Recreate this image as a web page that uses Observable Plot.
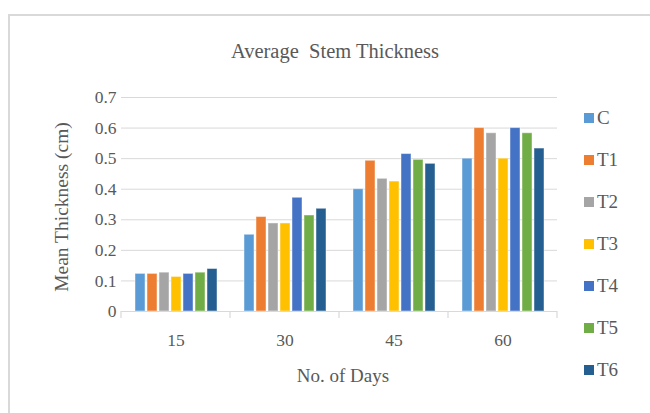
<!DOCTYPE html>
<html>
<head>
<meta charset="utf-8">
<script src="https://cdn.jsdelivr.net/npm/d3@7"></script>
<script src="https://cdn.jsdelivr.net/npm/@observablehq/plot@0.6"></script>
<style>
  html, body { margin: 0; padding: 0; background: #fff; }
  #wrap { position: relative; width: 650px; height: 413px; overflow: hidden; font-family: "Liberation Serif", "DejaVu Serif", serif; color: #595959; }
  #border { position: absolute; left: 8px; top: 14px; width: 700px; height: 460px; border: 2px solid #d9d9d9; box-sizing: border-box; }
  #title { position: absolute; left: 335px; top: 51px; transform: translate(-50%, -50%); font-size: 20.5px; white-space: pre; }
  #ytitle { position: absolute; left: 62px; top: 207px; transform: translate(-50%, -50%) rotate(-90deg); font-size: 19.5px; white-space: nowrap; }
  #xtitle { position: absolute; left: 343px; top: 376px; transform: translate(-50%, -50%); font-size: 19px; white-space: nowrap; }
  #chart { position: absolute; left: 0; top: 0; }
  #legend { position: absolute; left: 584px; top: 105px; font-family: "Liberation Serif", serif; }
  .item { height: 42px; display: flex; align-items: flex-start; font-size: 19px; line-height: 26px; }
  .sw { width: 10px; height: 10px; margin-top: 8px; margin-right: 3px; }
</style>
</head>
<body>
<div id="wrap">
  <div id="border"></div>
  <div id="chart"></div>
  <div id="title">Average  Stem Thickness</div>
  <div id="ytitle">Mean Thickness (cm)</div>
  <div id="xtitle">No. of Days</div>
  <div id="legend"></div>
</div>
<script>
const days = ["15", "30", "45", "60"];
const series = ["C", "T1", "T2", "T3", "T4", "T5", "T6"];
const C  = [0.123, 0.251, 0.400, 0.500];
const T1 = [0.123, 0.309, 0.493, 0.600];
const T2 = [0.127, 0.288, 0.434, 0.583];
const T3 = [0.113, 0.288, 0.425, 0.500];
const T4 = [0.123, 0.372, 0.515, 0.600];
const T5 = [0.127, 0.314, 0.496, 0.583];
const T6 = [0.139, 0.336, 0.483, 0.533];
const colors = ["#5b9bd5", "#ed7d31", "#a5a5a5", "#ffc000", "#4472c4", "#70ad47", "#255e91"];
const yTicks = [0, 0.1, 0.2, 0.3, 0.4, 0.5, 0.6, 0.7];

const valuesBySeries = [C, T1, T2, T3, T4, T5, T6];
const data = [];
days.forEach((d, i) => series.forEach((s, j) => data.push({day: d, series: s, value: valuesBySeries[j][i]})));

const plot = Plot.plot({
  width: 650,
  height: 413,
  marginLeft: 120,
  marginRight: 93,
  marginTop: 97,
  marginBottom: 102,
  style: {fontFamily: "'Liberation Serif', serif", fontSize: "17.5px", color: "#595959", background: "transparent"},
  fx: {domain: days, padding: 0, label: null},
  x: {domain: series, paddingInner: 0.17, paddingOuter: 0.85, axis: null},
  y: {domain: [0, 0.7], ticks: yTicks, label: null},
  color: {domain: series, range: colors},
  marks: [
    Plot.ruleY(yTicks.filter(t => t > 0), {stroke: "#d9d9d9", strokeWidth: 1}),
    Plot.barY(data, {fx: "day", x: "series", y: "value", fill: "series", stroke: "#ffffff", strokeOpacity: 0.45, strokeWidth: 1}),
    Plot.ruleY([0], {stroke: "#d9d9d9", strokeWidth: 1.2}),
    Plot.axisY({ticks: yTicks, tickFormat: d => d === 0 ? "0" : d3.format(".1f")(d), tickSize: 0, tickPadding: 5, fontSize: 17.5, label: null}),
    Plot.axisFx({anchor: "bottom", tickSize: 0, tickPadding: 22, fontSize: 17.5, label: null})
  ]
});
document.getElementById("chart").appendChild(plot);

// category boundary tick marks below the axis, from Plot's own scales
const fx = plot.scale("fx");
const ys = plot.scale("y");
const y0 = ys.apply(0);
const svg = d3.select(plot);
const bounds = days.map(d => fx.apply(d));
bounds.push(fx.apply(days[days.length - 1]) + fx.bandwidth);
svg.append("g").selectAll("line").data(bounds).join("line")
  .attr("x1", d => d).attr("x2", d => d)
  .attr("y1", y0).attr("y2", y0 + 7)
  .attr("stroke", "#d9d9d9").attr("stroke-width", 1.2);

const legend = document.getElementById("legend");
series.forEach((s, i) => {
  const it = document.createElement("div");
  it.className = "item";
  it.innerHTML = `<div class="sw" style="background:${colors[i]}"></div><div>${s}</div>`;
  legend.appendChild(it);
});
</script>
</body>
</html>
